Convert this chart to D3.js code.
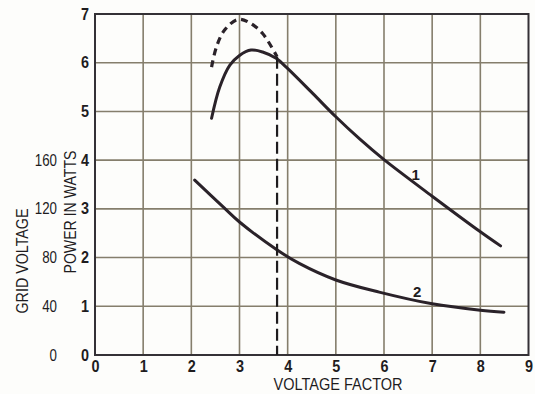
<!DOCTYPE html>
<html><head><meta charset="utf-8">
<script src="https://cdn.jsdelivr.net/npm/d3@7"></script>
<style>
html,body{margin:0;padding:0;background:#fdfdfb;}
svg{display:block;}
text{font-family:"Liberation Sans","Arial",sans-serif;fill:#1e1c1e;}
</style></head>
<body>
<script>
// ---- data ----
const xTicks = [0,1,2,3,4,5,6,7,8,9];
const powerTicks = [0,1,2,3,4,5,6,7];
const gridVoltageTicks = [0,40,80,120,160];
const gridVoltagePower = [0,1,2,3,4];

// curve 1 (solid)
const curve1X = [2.42,2.59,2.80,3.00,3.24,3.48,3.76,3.97,4.52,5.00,5.50,6.00,7.00,8.00,8.42];
const curve1Y = [4.86,5.50,5.95,6.15,6.26,6.22,6.09,5.91,5.37,4.89,4.43,4.01,3.26,2.53,2.24];
// dashed curve
const dashX = [2.42,2.52,2.69,2.97,3.21,3.48,3.78];
const dashY = [5.91,6.32,6.67,6.89,6.82,6.60,6.12];
// curve 2
const curve2X = [2.07,2.66,3.00,3.76,4.24,5.00,5.90,7.00,8.00,8.49];
const curve2Y = [3.59,3.04,2.73,2.17,1.88,1.54,1.29,1.05,0.92,0.88];
// vertical dashed line
const vLineX = 3.78;
const vLineY = [0,6.12];
// curve labels
const curveLabels = [{t:"1",x:6.66,y:3.70},{t:"2",x:6.69,y:1.29}];

// ---- drawing ----
const W=535,H=394;
const svg=d3.select("body").append("svg").attr("width",W).attr("height",H);
const x=d3.scaleLinear().domain([0,9]).range([95,528.5]);
const y=d3.scaleLinear().domain([0,7]).range([355,14]);

// grid
const grid=svg.append("g");
grid.selectAll("line.v").data(xTicks.slice(1,-1)).join("line")
  .attr("x1",d=>x(d)).attr("x2",d=>x(d)).attr("y1",y(0)).attr("y2",y(7))
  .attr("stroke","#857e6c").attr("stroke-width",1.6);
grid.selectAll("line.h").data(powerTicks.slice(1,-1)).join("line")
  .attr("y1",d=>y(d)).attr("y2",d=>y(d)).attr("x1",x(0)).attr("x2",x(9))
  .attr("stroke","#857e6c").attr("stroke-width",1.6);

// frame
svg.append("rect").attr("x",x(0)).attr("y",y(7)).attr("width",x(9)-x(0)).attr("height",y(0)-y(7))
  .attr("fill","none").attr("stroke","#343136").attr("stroke-width",2);

// axes (labels only)
const xAxis=d3.axisBottom(x).tickValues(xTicks).tickSize(0).tickPadding(6).tickFormat(d3.format("d"));
const gx=svg.append("g").attr("transform",`translate(0,${y(0)})`).call(xAxis);
gx.select(".domain").remove();
gx.selectAll("text").attr("font-size",16).attr("font-weight","bold").attr("fill","#1e1c1e")
  .attr("textLength",8).attr("lengthAdjust","spacingAndGlyphs")
  .style("font-family",'"Liberation Sans",Arial,sans-serif');

const yAxis=d3.axisLeft(y).tickValues(powerTicks).tickSize(0).tickPadding(6).tickFormat(d3.format("d"));
const gy=svg.append("g").attr("transform",`translate(${x(0)},0)`).call(yAxis);
gy.select(".domain").remove();
gy.selectAll("text").attr("font-size",16).attr("font-weight","bold").attr("fill","#1e1c1e")
  .attr("textLength",8).attr("lengthAdjust","spacingAndGlyphs")
  .style("font-family",'"Liberation Sans",Arial,sans-serif');

// grid voltage labels
svg.append("g").selectAll("text").data(gridVoltageTicks).join("text")
  .attr("x",57).attr("y",(d,i)=>y(gridVoltagePower[i])).attr("dy","0.35em")
  .attr("text-anchor","end").attr("font-size",16)
  .attr("textLength",d=>String(d).length*7.4).attr("lengthAdjust","spacingAndGlyphs")
  .text(d=>d);

// axis titles
svg.append("text").attr("transform",`translate(76,${212}) rotate(-90)`)
  .attr("text-anchor","middle").attr("font-size",17)
  .attr("textLength",123).attr("lengthAdjust","spacingAndGlyphs").text("POWER IN WATTS");
svg.append("text").attr("transform",`translate(28,${261}) rotate(-90)`)
  .attr("text-anchor","middle").attr("font-size",16)
  .attr("textLength",105).attr("lengthAdjust","spacingAndGlyphs").text("GRID VOLTAGE");
svg.append("text").attr("x",338).attr("y",390).attr("text-anchor","middle")
  .attr("font-size",16.5)
  .attr("textLength",129).attr("lengthAdjust","spacingAndGlyphs").text("VOLTAGE  FACTOR");

// curves
const line=d3.line().x(d=>x(d[0])).y(d=>y(d[1])).curve(d3.curveCatmullRom.alpha(0.5));
svg.append("path").datum(d3.zip(curve1X,curve1Y)).attr("d",line)
  .attr("fill","none").attr("stroke","#2a2229").attr("stroke-width",3).attr("stroke-linecap","round");
svg.append("path").datum(d3.zip(dashX,dashY)).attr("d",line)
  .attr("fill","none").attr("stroke","#2a2229").attr("stroke-width",3.2).attr("stroke-dasharray","7,5");
svg.append("path").datum(d3.zip(curve2X,curve2Y)).attr("d",line)
  .attr("fill","none").attr("stroke","#2a2229").attr("stroke-width",3).attr("stroke-linecap","round");
svg.append("line").attr("x1",x(vLineX)).attr("x2",x(vLineX)).attr("y1",y(vLineY[1])).attr("y2",y(vLineY[0]))
  .attr("stroke","#1e1c1e").attr("stroke-width",2.2).attr("stroke-dasharray","12,5");

svg.append("g").selectAll("text").data(curveLabels).join("text")
  .attr("x",d=>x(d.x)).attr("y",d=>y(d.y)).attr("dy","0.35em").attr("text-anchor","middle")
  .attr("font-size",15).attr("font-weight","bold").text(d=>d.t);
</script>
</body></html>
